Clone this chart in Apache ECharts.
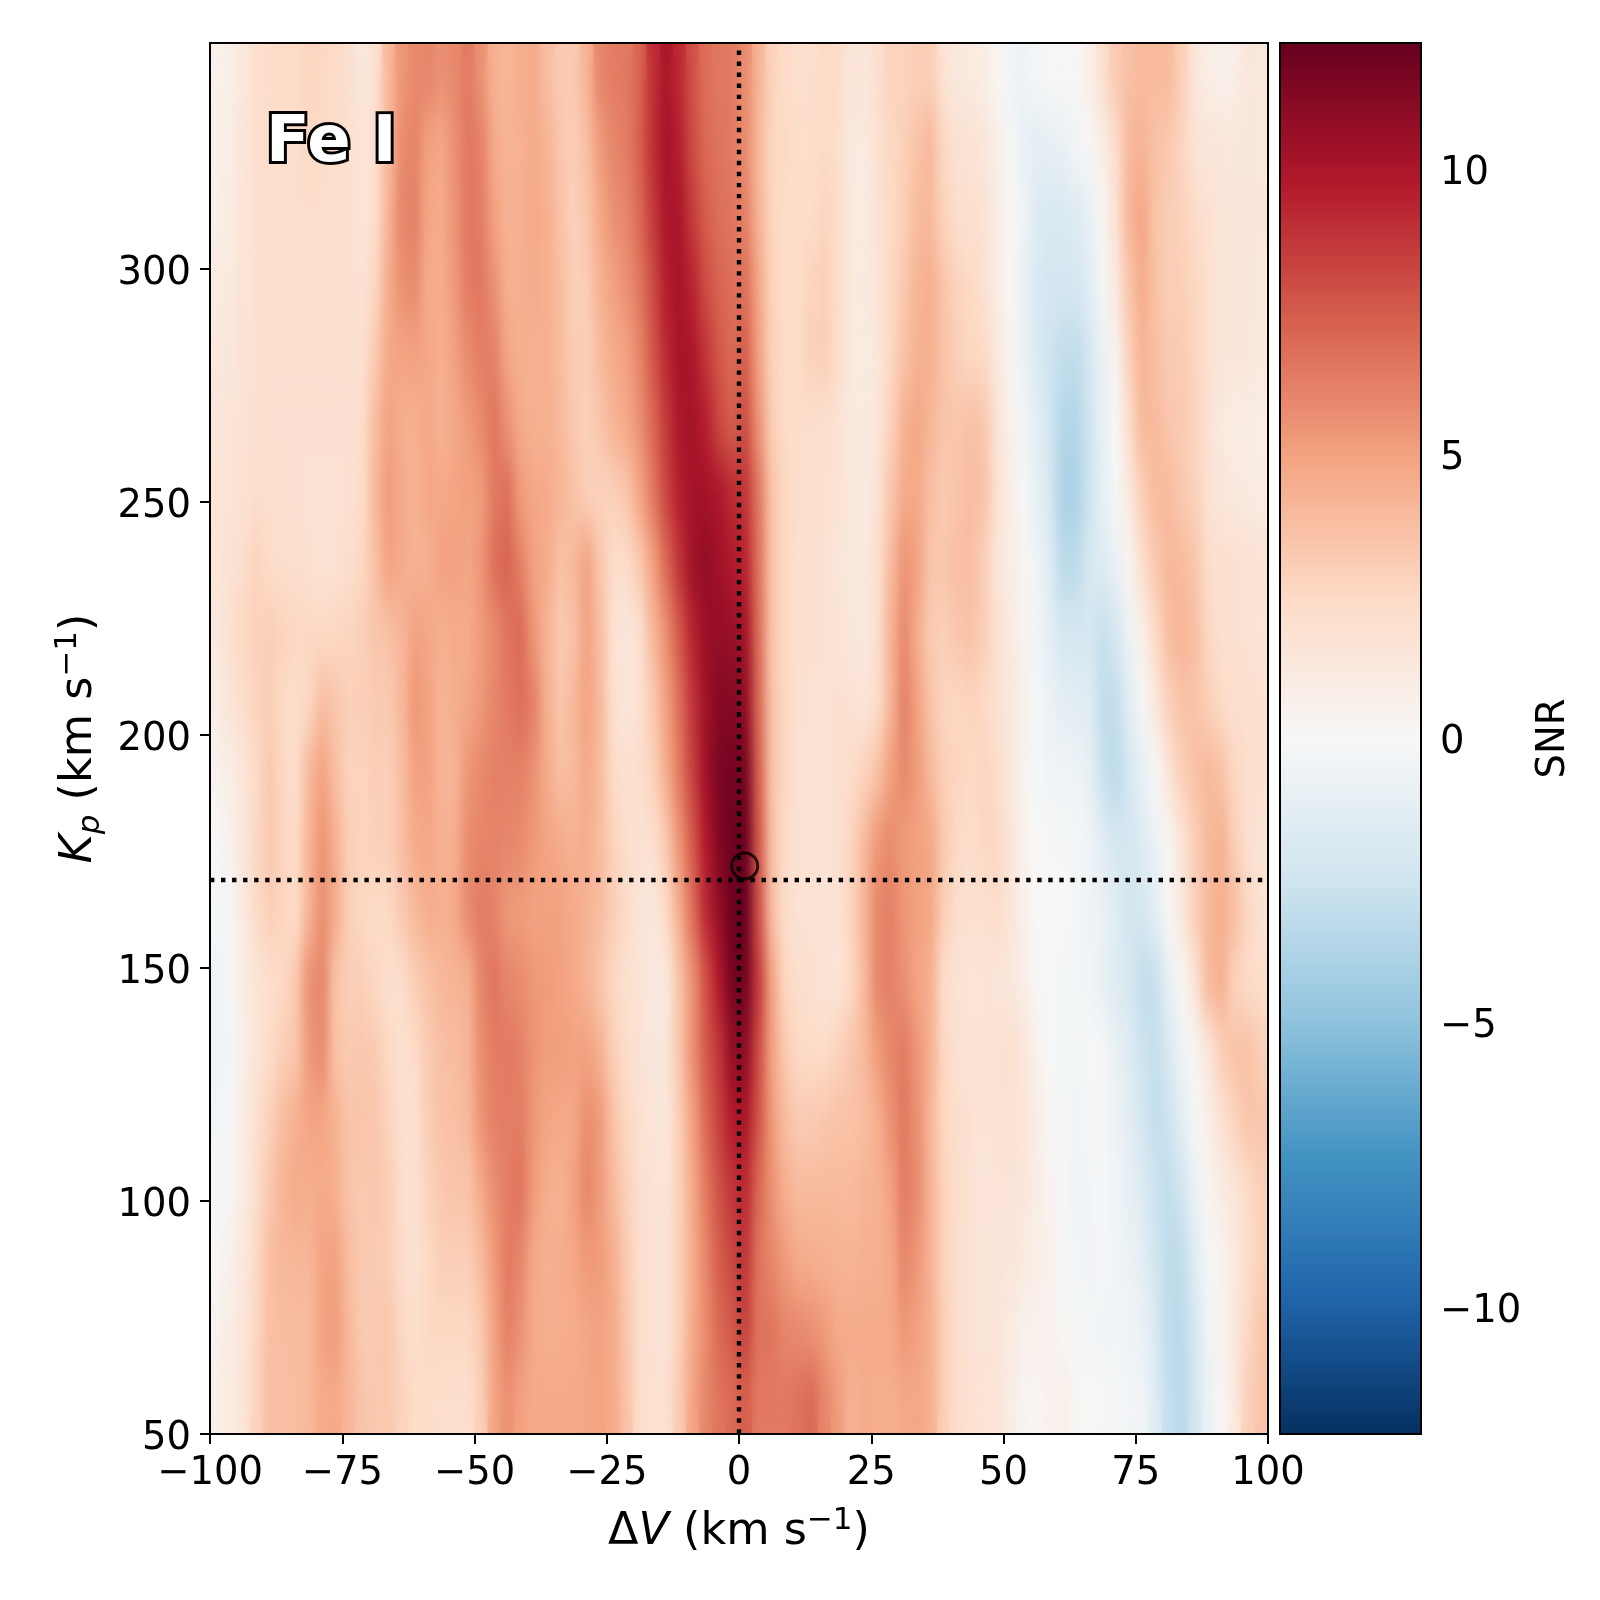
<!DOCTYPE html>
<html><head><meta charset="utf-8">
<style>html,body{margin:0;padding:0;background:#fff}#c{width:1600px;height:1600px}</style>
<script src="https://cdn.jsdelivr.net/npm/echarts@6/dist/echarts.min.js"></script>
</head><body><div id="c"></div>
<svg width="0" height="0" style="position:absolute"><filter id="soft" x="0" y="0" width="100%" height="100%" color-interpolation-filters="sRGB"><feGaussianBlur stdDeviation="5 24"/></filter></svg>
<script>
// Column centres (km/s) run -98.75 ... 98.75 in 2.5 steps; rows listed top (Kp~341) to bottom (Kp~57)
const velocityBins = ['-98.75','-96.25','-93.75','-91.25','-88.75','-86.25','-83.75','-81.25','-78.75','-76.25','-73.75','-71.25','-68.75','-66.25','-63.75','-61.25','-58.75','-56.25','-53.75','-51.25','-48.75','-46.25','-43.75','-41.25','-38.75','-36.25','-33.75','-31.25','-28.75','-26.25','-23.75','-21.25','-18.75','-16.25','-13.75','-11.25','-8.75','-6.25','-3.75','-1.25','1.25','3.75','6.25','8.75','11.25','13.75','16.25','18.75','21.25','23.75','26.25','28.75','31.25','33.75','36.25','38.75','41.25','43.75','46.25','48.75','51.25','53.75','56.25','58.75','61.25','63.75','66.25','68.75','71.25','73.75','76.25','78.75','81.25','83.75','86.25','88.75','91.25','93.75','96.25','98.75'];
const kpBinsTopDown = ['341','326','311','296','281','266','251','236','221','206','192','177','162','147','132','117','102','87','72','57'];
const snrRows = [
[.6,.8,1.3,2.1,2.3,2.4,2.4,2.7,2.6,2.4, 2.1,1.4,1.8,4,5.4,5.9,6,5.6,5.9,6.4, 5.6,4.3,4.1,4.5,4.6,3.8,3.2,3.2,4.2,6, 6.3,6.4,7.2,9,10,9.2,7.8,6.8,6.5,6.4, 5.8,4.2,2.8,2.4,2.1,2.2,2.5,2.3,1.6,1.6, 2,2.8,2.8,3,3,1.8,1.3,1.2,.9,.3, -.4,-.7,-.3,.1,.1,.1,.7,2,3.2,3.7, 3.9,3.9,3.9,3,1.5,1,.6,.9,1.4,1.4],
[.6,.9,1.6,2,2.3,2.2,2.2,2.5,2.3,2.2, 2,1.5,2,4,5.8,6.1,5,4.7,5.6,6.5, 6.2,4.6,4.2,4.3,4.7,4.2,3.4,3,3.7,5.2, 6,6.3,7.3,9,10.2,9.6,8,7,6.6,6.4, 5.8,4,2.7,2.5,2.2,2.3,2.5,2.1,1.2,1.1, 1.9,2.6,2.9,3.6,4,2.6,1.9,1.8,1.5,.8, .1,-.8,-1.2,-1.1,-.9,-.4,.1,.8,2.2,4, 4.2,3.6,3.3,2.7,1.7,1.5,1.5,1.4,1.4,1.4],
[.8,1,1.7,2,2.2,2.1,2.2,2.2,2.2,2.1, 2,1.6,2.2,4.2,6,6.2,4.8,4.6,5.5,6.5, 6.3,5,4.3,4.4,4.7,4.4,3.6,2.9,3.4,4.7, 5.6,6,7,8.6,10,10,8.6,7.4,6.8,6.6, 6.2,4.2,2.7,2.4,2.3,2.4,2.7,2.3,1.2,1, 1.8,2.5,3,3.9,4,2.8,2.2,2,1.8,1, .2,-.6,-1.6,-1.9,-1.9,-1.6,-1,.2,1.8,4.1, 4.8,3.5,3.1,2.9,2.4,1.9,1.6,1.5,1.5,1.5],
[1.1,1.2,1.7,1.9,2.1,2.1,2.1,2.2,2.2,2.1, 2,1.8,2.6,4.6,5.6,5.8,4.6,4.5,5.3,6.3, 6.5,5.6,4.4,4.4,4.6,4.4,3.8,3,3.1,4.3, 5,5.6,6.5,8,9.6,10.2,9.4,8,7.2,6.8, 6.8,4.8,2.8,2.4,2.4,2.8,3,2.3,1.3,1.1, 1.7,2.6,3.3,4.2,4.4,3.5,2.8,2.5,2,1, .2,-.8,-1.9,-2.2,-2.3,-2.2,-1.5,-.2,1.2,3.4, 4.6,3.6,3,3,2.6,2,1.6,1.5,1.4,1.3],
[1.3,1.4,1.8,1.9,2,2,2,2,2,2, 1.9,2,3.2,4.7,4.9,5,4.8,4.4,5,5.8, 6.3,6.2,4.8,4.4,4.4,4.4,3.9,3.1,3,3.9, 4.6,5,6,7.6,9.2,10.2,10,8.8,7.6,7, 7.4,5,2.9,2.4,2.4,2.9,3,2.2,1.3,1, 1.4,2.6,3.6,4.3,4.4,3.6,3,2.6,2.5,1.3, .3,-.7,-1.8,-2.5,-3,-3.1,-2.2,-.8,.4,2.9, 4.2,3.7,3.2,3.2,2.7,2,1.6,1.5,1.4,1.2],
[1.5,1.6,1.8,2,1.9,1.9,1.9,1.9,1.9,1.9, 1.9,2.2,3.8,5,4.5,4.4,4.8,4.3,4.7,5.2, 5.8,6.6,5.6,4.6,4.4,4.4,4,3.3,2.9,3.4, 4.2,4.7,5.6,7,8.6,10,10.2,9.6,8.2,7.4, 8,5.5,3.1,2.4,2.2,2.2,2.1,1.8,1.4,1.1, 1.5,2.9,4.3,4.8,4.1,3.5,3.4,3.7,3.4,1.8, .6,-.4,-1.2,-2.3,-3.6,-3.6,-2.5,-1,0,2.2, 4,3.9,3.4,3.2,2.8,1.8,1.2,1,1,.9],
[1.7,1.7,1.9,2.2,2.1,1.9,1.9,1.8,1.8,1.8, 1.9,2.4,4,5.2,4.6,4.3,4.8,4.7,4.9,5, 5.2,6.4,6.8,5.2,4.8,4.6,4.2,3.6,3,2.8, 2.9,3.4,4.8,6.4,8.2,9.6,10.2,10.3,10,9.2, 8.8,6.5,3.5,2.6,2.2,2.2,2,1.7,1.4,1.1, 1.8,3.4,4.6,4.7,3.7,3.2,3.5,3.8,3.6,2, .9,-.1,-1,-2.1,-3.9,-3.9,-2.6,-1.1,-.2,1.2, 3,3.9,3.9,3.3,2.9,1.9,1.5,1.3,1.1,1],
[1.6,1.8,2.2,2.8,2.4,2.1,2.2,2,1.7,1.9, 2.2,2.6,3.6,5,4.6,4.3,4.4,5,5,4.8, 5.4,6.8,7.2,6.2,5,4.6,3.6,4,5,3.4, 2.3,2.2,3.2,5,7,8.8,10.4,10.8,10.4,9.8, 9.4,6.6,3.6,2.5,2,1.9,1.9,1.6,1.2,1.2, 2,3.9,5.5,5,3.4,3.4,3.7,3.8,3,1.5, 1,.3,-.5,-1.5,-3.3,-3.2,-2,-1.5,-.9,.3, 2.1,3.3,4,3.9,3.4,2.2,2,2,1.8,1.8],
[1.3,2,2.6,2.8,3,2.8,2.6,2.6,2.5,2.6, 2.7,3,3.4,3.6,4.1,5,4.8,4.4,4.6,4.6, 5.2,5.8,6.6,7,5.4,4.2,3.2,3.6,5,3.8, 1.8,1.5,1.9,4,5.6,7.6,9.4,10.6,10.8,10.6, 10.3,6.8,3.5,2.5,2,1.9,1.9,1.7,1.4,1.3, 2.1,4.3,5.9,4.5,3.2,3,3.4,3.6,3.1,2, 1.2,.4,-.3,-1.2,-2.1,-2.2,-2.2,-2.8,-2.2,-.7, .7,2.4,3.8,4.2,3.7,2.6,2,2,1.8,1.7],
[.9,1.6,2.2,2.8,3,2.5,2.2,2.6,3.8,3.4, 2.9,3,3.2,3.2,4,5.4,5,4.2,4.5,4.8, 5.3,6,6.4,6.8,6.2,4.4,3.4,4,5,4, 2,1.5,1.9,3.2,5,6.8,8.8,10.4,11.3,11.3, 10.9,7,3.6,2.6,2,1.8,1.8,2,1.8,1.6, 2.2,4.2,6.2,5,3.5,2.7,2.6,2.8,2.5,1.9, 1.4,.6,-.2,-.8,-1.2,-1.3,-1.5,-3,-3,-1.4, -.2,1.3,2.9,3.6,3.6,3,2.4,2.1,2,2],
[.5,.9,1.5,2.4,3.3,2.6,2.2,4,5,3.7, 2.8,2.8,3,3,3.7,5,5,4.2,4.2,5.4, 5.9,6.2,6.2,6.2,5.6,4.6,3.7,3.9,4.7,3.9, 2.4,2,2.2,2.8,4.5,6.4,8.4,10.4,11.5,11.8, 11.7,7.3,3.6,2.6,1.9,1.7,1.7,2,2.3,2.8, 3.6,5.1,5.9,5.2,4,3,2.7,2.5,2.7,2.3, 1.4,.4,-.2,-.4,-.5,-.6,-1,-2.7,-3.3,-2.2, -1,0,1.6,3,3.6,4,3.6,2.6,2.2,2],
[.1,.5,1.4,2.6,3.3,2.7,2.3,4.2,5.5,4.4, 3,2.8,2.9,3,3.7,4.6,4.8,4.3,4.4,5.8, 6,6.1,6,5.8,5.3,4.9,4.6,4.3,4.5,3.9, 2.8,2.2,1.8,2,3.2,5.5,7.5,9.8,11.4,12, 12.1,7.6,3.7,2.4,1.9,1.7,1.8,2,2.7,4, 5.4,5.8,5.2,5,4.8,3.2,2.5,2.2,2.6,2.6, 1.6,.5,0,-.1,-.2,-.2,-.5,-1.3,-2.2,-2.2, -1.6,-.8,.2,1.6,3,4,4.3,3,2,1.7],
[-.3,-.1,1.1,2.4,3,2.7,2.4,4.2,5.7,4.6, 3,2.6,2.4,2.5,3.2,4,4.5,4.4,4.6,5.8, 6.4,6.1,5.3,5.2,5,5,5,4.6,4.3,3.8, 3.1,2.4,1.7,1.3,2.4,4.5,6.8,9.2,10.8,12, 12.2,7.8,3.8,2.2,1.8,1.8,1.8,1.7,2.8,4.2, 6,6.2,5.4,5,4.8,3,2.2,1.9,1.9,2.3, 1.6,.6,0,0,0,-.2,-.5,-.8,-1.4,-2.3, -2.2,-1.2,.1,1.4,3,4,4.4,3.8,2.6,1.9],
[-.5,-.2,.9,1.6,2.1,2.5,3.3,5.6,6,3.5, 3,3,2.6,2.1,2.2,3,3.6,4,4.2,4.3, 6,6.6,6,5.8,5.4,5.2,5,4.7,4.2,3.4, 2.6,2,1.7,1.2,1.2,3.5,5.5,7.8,9.8,11.8, 11.8,8.6,5,2.6,2.2,2,1.7,1.6,2.5,4, 6,6.2,5.6,4.9,4.4,2.2,1.8,1.6,1.7,1.6, 1.4,.9,.2,0,-.3,-.3,-.4,-1,-1.6,-2, -3,-2.8,-1,.2,1.7,4,4.4,2.8,2.4,2.2],
[-.5,-.3,.8,1.7,2.3,3,3.4,5.3,5.8,3.6, 3.2,3.4,3.2,2.5,2,2.4,3.2,3.7,3.8,4.2, 5.7,6.3,6.4,6.2,5.5,5.1,5.1,5,5,4.4, 3,2.2,1.8,1.4,1.4,3.4,5.6,7.5,8.8,10.8, 11,8,5,3.2,2.5,2.4,2.4,2.8,3.4,4, 5.2,6,6.4,5.4,4.4,2.6,2,1.7,1.7,1.8, 2,1.5,.6,0,-.3,-.3,-.1,-.1,-.9,-1.5, -2.6,-2.9,-2,-.6,.2,1.4,3,3.6,3.6,3],
[-.4,-.1,.9,2,2.9,3.8,4.4,4.9,4.8,4.3, 3.5,3.5,3.4,2.8,2,2,3.1,3.6,3.7,4, 5.5,6.2,6.3,6.3,5.4,4.9,4.7,4.7,5.7,5.3, 3.6,2.6,2,1.6,1.4,3,5,7,8.4,9.8, 10,7.7,5.3,3.8,3.2,3.2,3.4,3.6,3.6,3.8, 4.4,5.6,6.5,5.6,4.2,2.6,2.2,1.9,1.6,1.8, 1.9,1.6,.9,.2,-.2,-.4,-.2,-.1,-.6,-1.3, -2.2,-2.9,-2.6,-1.3,-.2,.8,1.8,2.8,3.5,3.4],
[-.2,.2,1,2.2,3.3,4.2,4.6,4.5,4.7,4.4, 3.5,3.3,3.4,3.1,2.2,1.9,2.8,3.3,3.5,3.5, 4.6,5.7,6.3,6.6,5.2,4.5,4.3,5,6,5.2, 4,2.9,2.1,1.8,1.6,2.9,4.6,6.4,7.8,8.8, 9.2,7,5.6,4.4,3.9,3.9,4,3.9,3.9,4.2, 4.3,5,6.4,5.8,4.2,2.8,2.3,1.8,1.5,1.6, 1.7,1.4,.9,.4,-.1,-.5,-.4,-.1,-.5,-1, -1.6,-2.6,-3,-2.4,-.8,.3,1,1.6,2.4,3],
[.2,.6,1.3,2.5,3.7,4,4.1,4.1,4.9,5, 3.8,3.3,3.2,3,2.3,1.9,2.5,3,3,3, 3.9,5.2,6.4,6,4.7,4.4,4.5,4.7,5.3,5.2, 4.5,3.2,2.1,1.8,1.7,3,4.5,6,7.4,8.2, 8.8,6.6,6,5.2,4.6,4.5,4.4,4.3,4.2,4.4, 4.4,4.7,6,5.4,4.3,2.8,2.2,1.8,1.6,1.6, 1.5,1.2,.8,.5,.1,-.3,-.4,-.2,-.4,-.8, -1.2,-2.4,-3.2,-3.1,-1.5,-.2,.5,1.2,2.2,3],
[.5,1,1.5,2.6,3.7,3.8,3.8,3.9,5,5.2, 4,3.2,3.2,3.4,2.6,2.2,2.6,2.6,2.6,2.6, 3.2,5,6.2,5.6,4.6,4.5,4.5,4.6,4.8,5, 4.6,3.4,2.2,1.8,1.7,2.9,4.6,5.8,7,7.6, 8.4,6.6,6.6,6,5.8,5.6,5.2,4.6,4.6,4.6, 4.6,4.7,5.4,5,4.5,3,2.2,1.8,1.6,1.6, 1.1,.6,.6,.5,.2,-.1,-.3,-.4,-.3,-.5, -.8,-1.8,-3.2,-3.3,-2.1,-.5,.4,1.4,2.6,3.4],
[.8,1.1,1.6,2.8,3.7,3.7,3.8,4,4.6,4.7, 4.1,3.5,3.3,3.3,2.8,2.4,2.3,2.2,2.2,2.1, 3,4.9,5.6,5,4.7,4.7,4.7,4.7,4.8,4.9, 4.6,3.6,2.2,1.9,1.9,3.2,4.9,6,6.6,7, 7.4,6.4,6.4,6.4,6.7,7,6,5.2,4.3,4.6, 4.5,4.5,4.7,4.8,4.4,3,2.2,1.9,1.7,1.6, 1,.4,.2,.5,.7,.2,0,-.1,-.2,-.3, -.5,-1.6,-3,-3.4,-2.3,-.8,.2,1.2,3,3.5]
];
const xTicks = [-100,-75,-50,-25,0,25,50,75,100];
const yTicks = [50,100,150,200,250,300];
const xRange = [-100,100], yRange = [50,348.5];
const barTicks = [-10,-5,0,5,10];
const barRange = [-12.23, 12.23];
const rdbu = ['#053061','#2166ac','#4393c3','#92c5de','#d1e5f0','#f7f7f7','#fddbc7','#f4a582','#d6604d','#b2182b','#67001f'];
const zeroV = 0, planetKp = 168.9;
const peak = [1.08, 171.9];
const tag = 'Fe I';

const FONT = 'DejaVu Sans', TICK = 38.5, LAB = 44.5;
const kpBins = kpBinsTopDown.slice().reverse();
const heat = [];
snrRows.forEach((row, r) => row.forEach((v, c) => heat.push([c, kpBinsTopDown.length - 1 - r, v])));
const minus = v => String(v).replace('-', '\u2212');
const shifted = v => '{a|' + minus(v) + '}';
const L = 210, R = 1268, T = 43, B = 1434, CL = 1280, CR = 1421;
const vAxis = (ticks, margin, down, extra) => Object.assign({
  axisLine:{show:false},
  axisTick:{show:true,length:10,lineStyle:{color:'#000',width:2},customValues:ticks},
  axisLabel:{color:'#000',fontFamily:FONT,fontSize:TICK,margin,formatter:down?shifted:minus,customValues:ticks,hideOverlap:false,
    rich:{a:{fontFamily:FONT,fontSize:TICK,color:'#000',lineHeight:46,padding:[9,0,0,0]}}},
  splitLine:{show:false}
}, extra);
const txt = {fontFamily:FONT,fontSize:LAB,color:'#000',lineHeight:54};
const ital = Object.assign({},txt,{fontStyle:'italic'});
const sup = Object.assign({},txt,{fontSize:31,verticalAlign:'top',lineHeight:40});
const chart = echarts.init(document.getElementById('c'), null, {renderer:'canvas', width:1600, height:1600, devicePixelRatio:1});
const heatSeries = (zlevel) => ({type:'heatmap', xAxisIndex:0, yAxisIndex:0, data:heat, progressive:0, silent:true, emphasis:{disabled:true}, z:2, zlevel});
chart.setOption({
  animation:false, backgroundColor:'#fff',
  grid:[
    {left:L, top:T, width:R-L, height:B-T, show:true, backgroundColor:'transparent', borderColor:'#000', borderWidth:2, z:5, zlevel:2},
    {left:CL, top:T, width:CR-CL, height:B-T, show:true, backgroundColor:'transparent', borderColor:'#000', borderWidth:2, z:5, zlevel:2}
  ],
  xAxis:[
    {type:'category', gridIndex:0, data:velocityBins, show:false},
    vAxis(xTicks, 20, false, {type:'value', gridIndex:0, min:xRange[0], max:xRange[1], position:'bottom',
      name:'{t|\u0394}{i|V}{t| (km s}{s|\u22121}{t|)}', nameLocation:'middle', nameGap:71,
      nameTextStyle:{rich:{t:txt,i:ital,s:sup}}}),
    {type:'value', gridIndex:1, min:0, max:1, show:false}
  ],
  yAxis:[
    {type:'category', gridIndex:0, data:kpBins, show:false},
    vAxis(yTicks, 19, true, {type:'value', gridIndex:0, min:yRange[0], max:yRange[1], position:'left',
      name:'{i|K}{p|p}{t| (km s}{s|\u22121}{t|)}', nameLocation:'middle', nameGap:99,
      nameTextStyle:{rich:{t:txt,i:ital,s:sup,p:Object.assign({},ital,{fontSize:31,verticalAlign:'bottom',lineHeight:40})}}}),
    vAxis(barTicks, 19, true, {type:'value', gridIndex:1, min:barRange[0], max:barRange[1], position:'right',
      name:'SNR', nameLocation:'middle', nameGap:113, nameRotate:90,
      nameTextStyle:{fontFamily:FONT,fontSize:TICK,color:'#000'}})
  ],
  visualMap:{type:'continuous', seriesIndex:[0,1], min:barRange[0], max:barRange[1], inRange:{color:rdbu},
    calculable:false, hoverLink:false, realtime:false, text:null, showLabel:false, padding:0,
    left:CL, top:T, itemWidth:CR-CL, itemHeight:B-T, z:1, textStyle:{fontSize:0}},
  series:[
    heatSeries(0),
    heatSeries(1),
    {type:'line', xAxisIndex:1, yAxisIndex:1, data:[[zeroV,yRange[1]],[zeroV,yRange[0]]], symbol:'none', silent:true, z:3, zlevel:2,
      lineStyle:{color:'#000',width:4.4,type:[4.4,6.63],dashOffset:3.5}},
    {type:'line', xAxisIndex:1, yAxisIndex:1, data:[[xRange[0],planetKp],[xRange[1],planetKp]], symbol:'none', silent:true, z:3, zlevel:2,
      lineStyle:{color:'#000',width:4.4,type:[4.4,6.63]}},
    {type:'scatter', xAxisIndex:1, yAxisIndex:1, data:[peak], symbol:'circle', symbolSize:26, silent:true, z:4, zlevel:2,
      itemStyle:{color:'transparent',borderColor:'#000',borderWidth:3}}
  ],
  graphic:[{type:'text', left:263, top:109, z:10, zlevel:2, silent:true,
    style:{text:tag, fontFamily:FONT, fontWeight:'bold', fontSize:64, fill:'#fff', stroke:'#000', lineWidth:6, strokeFirst:true}}]
});
// Display smoothing only: the upper heatmap layer is softened and clipped to the plot box, as an interpolated image would look.
function soften(){
  const cv = document.querySelector('canvas[data-zr-dom-id="zr_1"]');
  if (cv){ cv.style.filter='url(#soft)'; cv.style.clipPath=`polygon(${L}px ${T}px, ${R}px ${T}px, ${R}px ${B}px, ${L}px ${B}px)`; }
}
soften(); chart.on('finished', soften);
</script></body></html>
